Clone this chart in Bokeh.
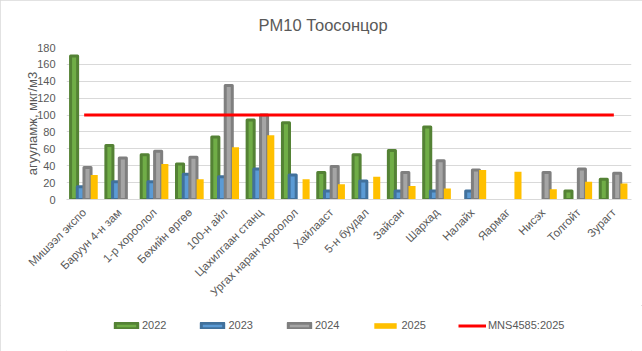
from bokeh.plotting import figure
from bokeh.models import ColumnDataSource, Range1d, Legend, LegendItem
from bokeh.layouts import column
from bokeh.transform import dodge
from bokeh.embed import file_html
from bokeh.resources import INLINE
import math

categories = ["Мишээл экспо", "Баруун 4-н зам", "1-р хороолол", "Бөхийн өргөө", "100-н айл",
              "Цахилгаан станц", "Ургах наран хороолол", "Хайлааст", "5-н буудал", "Зайсан",
              "Шархад", "Налайх", "Яармаг", "Нисэх", "Толгойт", "Зурагт"]
v2022 = [170, 64, 53, 42, 74, 94, 91, 32, 53, 58, 86, None, None, None, 10, 24]
v2023 = [15, 21, 21, 30, 27, 36, 29, 10, 22, 10, 10, 10, None, None, None, None]
v2024 = [38, 49, 57, 50, 135, 100, None, 39, None, 32, 46, 35, None, 32, 36, 31]
v2025 = [29, None, 42, 24, 62, 76, 24, 18, 27, 16, 13, 35, 33, 12, 21, 19]
mns_value = 100
series_names = ["2022", "2023", "2024", "2025"]
mns_label = "MNS4585:2025"

FONT = "Liberation Sans"
TXT = "#595959"

p = figure(width=642, height=305, x_range=categories, y_range=Range1d(0, 180),
           output_backend="svg", toolbar_location=None,
           min_border_left=66, min_border_right=11, min_border_top=46, min_border_bottom=105)

p.title.text = "PM10 Тоосонцор"
p.title.align = "left"
p.title.offset = 192
p.title.text_font = FONT
p.title.text_font_size = "16.5px"
p.title.text_font_style = "normal"
p.title.text_color = TXT
p.title.standoff = 27

styles = [
    ("#70AD47", "#548235", 3),
    ("#5B9BD5", "#41719C", 3),
    ("#A5A5A5", "#7F7F7F", 3),
    ("#FFC000", None, 0),
]
offsets = [-0.285, -0.095, 0.095, 0.285]
sources = []
for vals, (fc, lc, lw), off in zip([v2022, v2023, v2024, v2025], styles, offsets):
    xs = [c for c, v in zip(categories, vals) if v is not None]
    ys = [v for v in vals if v is not None]
    src = ColumnDataSource(dict(x=xs, top=ys))
    sources.append(src)
    p.vbar(x=dodge("x", off, range=p.x_range), top="top", width=0.2, source=src,
           fill_color=fc, line_color=lc, line_width=lw, line_join="round")

mns_src = ColumnDataSource(dict(x=[categories[0], categories[-1]], y=[mns_value, mns_value]))
p.line(x="x", y="y", source=mns_src, line_color="#FF0000", line_width=3)

p.xgrid.grid_line_color = None
p.ygrid.grid_line_color = "#D9D9D9"
p.yaxis.axis_line_color = None
p.xaxis.axis_line_color = "#D9D9D9"
for ax in (p.xaxis, p.yaxis):
    ax.major_tick_line_color = None
    ax.minor_tick_line_color = None
    ax.major_label_text_font = FONT
    ax.major_label_text_color = TXT
    ax.major_label_text_font_size = "11px"
p.xaxis.major_label_text_font_size = "11.5px"
p.yaxis.ticker = list(range(0, 181, 20))
p.yaxis.axis_label = "агууламж, мкг/м3"
p.yaxis.axis_label_text_font = FONT
p.yaxis.axis_label_text_font_size = "13px"
p.yaxis.axis_label_text_font_style = "normal"
p.yaxis.axis_label_text_color = TXT
p.yaxis.axis_label_standoff = -6
p.xaxis.major_label_orientation = math.pi / 4
p.x_range.range_padding = 0
p.outline_line_color = None

# legend strip: hidden renderers sharing the chart's sources supply the legend swatches
lg = figure(width=642, height=46, x_range=categories, y_range=Range1d(1000, 1001),
            output_backend="svg", toolbar_location=None, x_axis_type=None, y_axis_type=None,
            min_border=0)
lg.grid.grid_line_color = None
lg.outline_line_color = None
leg_renderers = []
for src, (fc, lc, lw) in zip(sources, styles):
    leg_renderers.append(lg.vbar(x="x", top="top", width=0.2, source=src, visible=False,
                                 fill_color=fc, line_color=lc, line_width=lw,
                                 line_join="round"))
leg_renderers.append(lg.line(x="x", y="y", source=mns_src, visible=False,
                             line_color="#FF0000", line_width=3))
items = [LegendItem(label=n, renderers=[r])
         for n, r in zip(series_names + [mns_label], leg_renderers)]
legend = Legend(items=items, orientation="horizontal", location=(46, 20),
                glyph_width=28, glyph_height=7, label_standoff=2, spacing=32,
                label_text_font=FONT, label_text_font_size="11px", label_text_color=TXT,
                border_line_color=None, background_fill_alpha=0, padding=0, margin=0,
                label_height=12, click_policy="none", inactive_fill_alpha=0)
lg.add_layout(legend, "center")

layout = column(p, lg, spacing=0)
layout.styles = {"outline": "1px solid #D9D9D9", "outline-offset": "-1px"}

open("out.html", "w").write(file_html(layout, INLINE))
